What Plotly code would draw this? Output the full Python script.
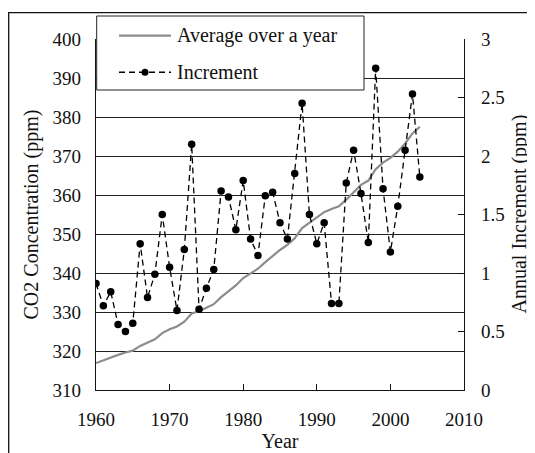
import plotly.graph_objects as go

years = list(range(1960, 2005))
avg_ppm = [316.9, 317.6, 318.5, 319.0, 319.6, 320.1, 321.3, 322.1, 323.0, 324.6,
           325.6, 326.3, 327.5, 329.6, 330.2, 331.1, 332.0, 333.8, 335.4, 336.8,
           338.7, 339.9, 341.1, 342.8, 344.4, 345.9, 347.2, 348.9, 351.5, 352.9,
           354.2, 355.6, 356.4, 357.1, 358.8, 360.8, 362.6, 363.7, 366.6, 368.3,
           369.5, 371.1, 373.2, 375.8, 377.5]
increment = [0.91, 0.72, 0.84, 0.56, 0.50, 0.57, 1.25, 0.79, 0.99, 1.50,
             1.05, 0.68, 1.20, 2.10, 0.69, 0.87, 1.03, 1.70, 1.65, 1.37,
             1.79, 1.29, 1.15, 1.66, 1.69, 1.43, 1.29, 1.85, 2.45, 1.50,
             1.25, 1.43, 0.74, 0.74, 1.77, 2.05, 1.68, 1.26, 2.75, 1.72,
             1.18, 1.57, 2.05, 2.53, 1.82]

FONT = "Liberation Serif"
INK = "#111111"

fig = go.Figure()
fig.add_trace(go.Scatter(x=years, y=avg_ppm, mode="lines", name="Average over a year",
                         line=dict(color="#8c8c8c", width=2.2), yaxis="y"))
fig.add_trace(go.Scatter(x=years, y=increment, mode="lines+markers", name="Increment",
                         line=dict(color="#000000", width=1.3, dash="6px,4px"),
                         marker=dict(color="#000000", size=7.5), yaxis="y2"))

# page has an 8px body margin; figure is 527x445 placed at (8, 8).
# plot area in page pixels: x 96..464, y 39..390
W, H = 368.0, 351.0
def px(x): return (x - 96) / W
def py(y): return (390 - y) / H

shapes = [
    # outer frame
    dict(type="rect", xref="paper", yref="paper", x0=px(8.7), x1=px(560), y0=py(480), y1=py(12.7),
         line=dict(color="#111111", width=1.3), fillcolor="rgba(0,0,0,0)", layer="above"),
    # legend box
    dict(type="rect", xref="paper", yref="paper", x0=px(96.7), x1=px(364), y0=py(90), y1=py(16),
         line=dict(color="#222222", width=1), fillcolor="white", layer="above"),
    dict(type="line", xref="paper", yref="paper", x0=px(119), x1=px(171), y0=py(35.7), y1=py(35.7),
         line=dict(color="#8c8c8c", width=2.2), layer="above"),
    dict(type="line", xref="paper", yref="paper", x0=px(119), x1=px(171), y0=py(72.3), y1=py(72.3),
         line=dict(color="#000000", width=1.5, dash="6px,4px"), layer="above"),
    dict(type="circle", xref="paper", yref="paper", x0=px(141.5), x1=px(148.5), y0=py(75.8), y1=py(68.8),
         line=dict(color="#000000", width=0), fillcolor="#000000", layer="above"),
]
annotations = [
    dict(xref="paper", yref="paper", x=px(175), y=py(35.7), text="Average over a year",
         showarrow=False, xanchor="left", yanchor="middle", font=dict(family=FONT, size=20, color=INK)),
    dict(xref="paper", yref="paper", x=px(175), y=py(72.3), text="Increment",
         showarrow=False, xanchor="left", yanchor="middle", font=dict(family=FONT, size=20, color=INK)),
    dict(xref="paper", yref="paper", x=px(519), y=0.5, text="Annual Increment (ppm)", textangle=-90,
         showarrow=False, xanchor="center", yanchor="middle", font=dict(family=FONT, size=20, color=INK)),
]

fig.update_layout(
    width=527, height=445,
    margin=dict(l=88, r=71, t=31, b=63),
    paper_bgcolor="white", plot_bgcolor="white",
    showlegend=False,
    font=dict(family=FONT, size=19, color=INK),
    xaxis=dict(range=[1960, 2010], dtick=10, tick0=1960, showgrid=False, zeroline=False,
               showline=True, linecolor="#111111", linewidth=1.3, automargin=False,
               ticks="inside", ticklen=6, tickcolor="#111111",
               ticklabelstandoff=12,
               title=dict(text="Year", font=dict(family=FONT, size=20, color=INK), standoff=4)),
    yaxis=dict(range=[310, 400], dtick=10, tick0=310, showgrid=True, gridcolor="#222222", gridwidth=1,
               zeroline=False, showline=True, linecolor="#111111", linewidth=1.3, ticks="",
               ticklabelstandoff=10, automargin=False,
               title=dict(text="CO2 Concentration (ppm)", font=dict(family=FONT, size=20, color=INK), standoff=8)),
    yaxis2=dict(range=[0, 3], dtick=0.5, tick0=0, overlaying="y", side="right", showgrid=False,
                zeroline=False, showline=True, linecolor="#111111", linewidth=1.3, automargin=False,
                ticks="inside", ticklen=6, tickcolor="#111111", ticklabelstandoff=12),
    shapes=shapes,
    annotations=annotations,
)

fig.write_html("out.html")
